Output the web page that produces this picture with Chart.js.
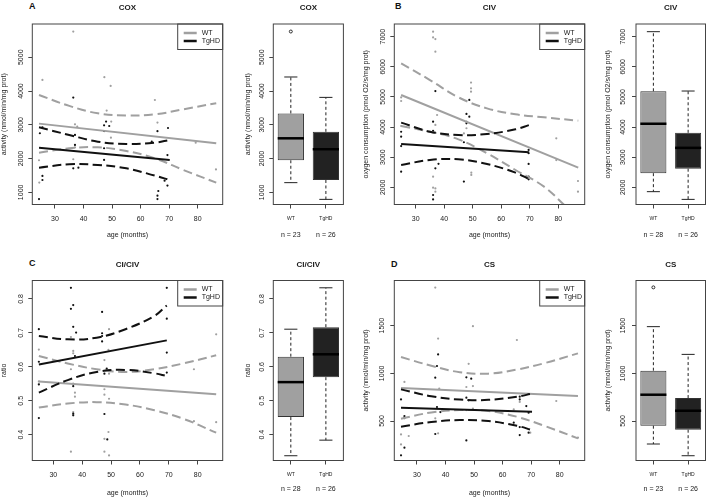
<!DOCTYPE html>
<html>
<head>
<meta charset="utf-8">
<script src="https://cdn.jsdelivr.net/npm/chart.js@4.4.1/dist/chart.umd.min.js"></script>
<style>
  html, body { margin: 0; padding: 0; background: #fff; }
  #fig { position: relative; width: 708px; height: 497px; overflow: hidden; }
  #fig canvas { position: absolute; }
  .tag { position: absolute; font: bold 9px "Liberation Sans", Arial, sans-serif; line-height: 9px; color: #111; }
</style>
</head>
<body>
<div id="fig">
  <div class="tag" style="left:29px;top:1.5px">A</div>
  <div class="tag" style="left:395px;top:1.5px">B</div>
  <div class="tag" style="left:29px;top:258.5px">C</div>
  <div class="tag" style="left:391px;top:259.5px">D</div>
  <canvas id="coxScatter"></canvas>
  <canvas id="coxBox"></canvas>
  <canvas id="civScatter"></canvas>
  <canvas id="civBox"></canvas>
  <canvas id="ratioScatter"></canvas>
  <canvas id="ratioBox"></canvas>
  <canvas id="csScatter"></canvas>
  <canvas id="csBox"></canvas>
</div>
<script>
// ---- data ----
const groups = ['WT', 'TgHD'];
const ageTicks = [30, 40, 50, 60, 70, 80];

// COX
const coxTicks = [1000, 2000, 3000, 4000, 5000];
const coxWtAge = [24.4, 24.5, 25.6, 36.4, 36.4, 37.0, 37.8, 37.0, 47.3, 48.1, 49.5, 49.7, 49.6, 65.0, 65.9, 79.3, 86.4];
const coxWtAct = [1950, 1290, 4330, 5760, 1980, 3015, 2945, 2330, 4410, 3420, 4150, 3095, 2620, 3735, 3065, 2470, 1680];
const coxTgAge = [24.4, 25.6, 25.6, 24.7, 25.6, 36.4, 37.0, 37.0, 36.4, 38.2, 47.2, 47.9, 49.0, 47.2, 47.2, 47.2, 63.9, 65.9, 66.2, 65.9, 65.9, 69.6, 69.4, 68.4, 69.4];
const coxTgAct = [800, 1485, 1365, 2750, 2925, 3805, 2700, 2405, 1710, 1730, 2985, 3095, 2965, 2815, 2305, 1960, 2500, 2810, 1040, 900, 800, 2905, 2105, 1345, 1200];
const coxWtFitAge = [24.4, 86.5];
const coxWtFit = [3035, 2452];
const coxTgFitAge = [24.4, 70.2];
const coxTgFit = [2323, 1958];
const coxWtBandAge = [24.4, 35, 45, 55, 65, 75, 86.5];
const coxWtUpper = [3884, 3560, 3340, 3275, 3310, 3460, 3640];
const coxWtLower = [2175, 2304, 2333, 2225, 2007, 1662, 1286];
const coxTgBandAge = [24.4, 35, 45, 55, 65, 70.2];
const coxTgUpper = [2926, 2699, 2501, 2432, 2472, 2551];
const coxTgLower = [1731, 1830, 1810, 1711, 1494, 1365];
const coxBoxWt = [1287, 1950, 2600, 3337, 4416];
const coxBoxTg = [792, 1366, 2277, 2792, 3812];
const coxOutWt = [5762];
const coxOutTg = [];
const coxN = [23, 26];

// CIV
const civTicks = [2000, 3000, 4000, 5000, 6000, 7000];
const civWtAge = [36.1, 36.1, 36.9, 36.9, 24.9, 24.9, 24.9, 37.5, 36.9, 36.1, 36.1, 36.9, 36.9, 49.4, 49.4, 49.4, 47.8, 47.8, 49.5, 49.5, 79.3, 79.3, 86.9, 86.9, 81.9, 46.9];
const civWtO2 = [7165, 6975, 6920, 6500, 4985, 4865, 4035, 4400, 4070, 2355, 1990, 1965, 1855, 5475, 5285, 5175, 4180, 3960, 2485, 2410, 3625, 2905, 2210, 1855, 1415, 3790];
const civTgAge = [24.9, 24.9, 24.9, 24.9, 36.1, 36.9, 36.9, 38.0, 36.1, 36.1, 36.1, 48.8, 47.8, 48.8, 47.8, 46.9, 46.9, 69.6, 69.6, 69.6, 69.6, 69.6];
const civTgO2 = [3845, 3680, 3370, 2520, 4180, 5195, 2630, 2780, 1745, 1600, 3870, 4900, 4435, 4345, 4125, 3495, 2190, 3240, 3130, 2775, 2355, 2265];
const civWtFitAge = [24.9, 87];
const civWtFit = [5063, 2653];
const civTgFitAge = [24.9, 69.8];
const civTgFit = [3438, 3161];
const civWtBandAge = [24.9, 35, 45, 55, 65, 75, 87];
const civWtUpper = [6114, 5561, 4986, 4621, 4422, 4323, 4212];
const civWtLowAge = [24.9, 35, 45, 55, 65, 75, 82.5];
const civWtLower = [4035, 3847, 3593, 3128, 2575, 2022, 1380];
const civTgBandAge = [24.9, 35, 45, 55, 65, 69.8];
const civTgUpper = [4146, 3847, 3736, 3770, 3924, 4068];
const civTgLower = [2741, 2907, 2929, 2774, 2487, 2265];
const civBoxWt = [1856, 2470, 4110, 5188, 7165];
const civBoxTg = [1600, 2618, 3310, 3810, 5196];
const civOutWt = [];
const civOutTg = [];
const civN = [28, 26];

// CI/CIV
const ratioTicks = [0.4, 0.5, 0.6, 0.7, 0.8];
const ratioWtAge = [25.0, 25.0, 25.0, 36.1, 36.9, 36.9, 36.1, 36.9, 37.5, 37.5, 36.9, 36.1, 49.3, 47.7, 49.1, 49.3, 47.7, 47.7, 49.3, 47.7, 49.1, 47.7, 49.3, 78.7, 78.7, 86.4, 86.4];
const ratioWt = [0.651, 0.557, 0.550, 0.688, 0.647, 0.640, 0.593, 0.551, 0.524, 0.512, 0.467, 0.350, 0.711, 0.620, 0.650, 0.580, 0.534, 0.518, 0.506, 0.388, 0.408, 0.350, 0.339, 0.593, 0.440, 0.696, 0.437];
const ratioTgAge = [25.0, 25.0, 25.0, 25.0, 36.1, 36.1, 36.9, 36.9, 37.9, 37.5, 36.9, 36.9, 36.9, 46.9, 46.9, 46.9, 46.9, 47.7, 48.5, 47.7, 48.7, 69.3, 69.3, 69.3, 69.3];
const ratioTg = [0.711, 0.615, 0.548, 0.449, 0.833, 0.771, 0.782, 0.718, 0.701, 0.632, 0.543, 0.457, 0.462, 0.762, 0.699, 0.691, 0.675, 0.580, 0.595, 0.461, 0.386, 0.833, 0.742, 0.642, 0.583];
const ratioWtFitAge = [25.0, 86.4];
const ratioWtFit = [0.557, 0.519];
const ratioTgFitAge = [25.0, 69.3];
const ratioTgFit = [0.607, 0.678];
const ratioWtBandAge = [25.0, 35, 45, 55, 65, 75, 86.4];
const ratioWtUpper = [0.632, 0.610, 0.593, 0.585, 0.593, 0.610, 0.634];
const ratioWtLower = [0.480, 0.492, 0.496, 0.489, 0.472, 0.447, 0.406];
const ratioTgBandAge = [25.0, 35, 45, 55, 65, 69.3];
const ratioTgUpper = [0.691, 0.681, 0.686, 0.711, 0.750, 0.781];
const ratioTgLower = [0.524, 0.561, 0.585, 0.591, 0.581, 0.573];
const ratioBoxWt = [0.338, 0.452, 0.555, 0.630, 0.711];
const ratioBoxTg = [0.384, 0.5695, 0.637, 0.717, 0.833];
const ratioOutWt = [];
const ratioOutTg = [];
const ratioN = [28, 26];

// CS
const csTicks = [500, 1000, 1500];
const csWtAge = [24.4, 24.4, 25.6, 25.6, 27.1, 36.4, 37.4, 36.4, 37.4, 37.8, 48.1, 49.6, 47.3, 49.6, 47.3, 49.6, 65.0, 66.0, 78.8, 86.4, 69.7, 63.9];
const csWtAct = [360, 255, 910, 528, 343, 1900, 1365, 528, 371, 840, 1100, 1495, 857, 867, 615, 630, 1350, 700, 710, 325, 378, 622];
const csTgAge = [24.4, 25.6, 25.6, 25.6, 24.4, 37.4, 37.0, 36.4, 37.0, 38.2, 36.4, 47.3, 49.0, 47.3, 48.1, 47.3, 63.9, 66.0, 66.0, 66.0, 66.0, 68.3, 69.1, 69.1];
const csTgAct = [727, 535, 552, 220, 140, 1199, 1077, 955, 647, 594, 364, 958, 944, 745, 717, 297, 483, 755, 727, 437, 353, 657, 587, 378];
const csWtFitAge = [24.4, 86.4];
const csWtFit = [846, 762];
const csTgFitAge = [24.4, 70.3];
const csTgFit = [640, 598];
const csWtBandAge = [24.4, 35, 45, 55, 65, 75, 86.4];
const csWtUpper = [1171, 1080, 1012, 997, 1040, 1110, 1210];
const csWtLower = [524, 590, 615, 605, 545, 445, 318];
const csTgBandAge = [24.4, 35, 45, 55, 65, 70.3];
const csTgUpper = [832, 760, 725, 722, 755, 787];
const csTgLower = [441, 490, 510, 500, 450, 405];
const csBoxWt = [259, 451, 776, 1028, 1490];
const csBoxTg = [136, 409, 608, 741, 1199];
const csOutWt = [1902];
const csOutTg = [];
const csN = [23, 26];

// ---- look ----
const FONT = '"Liberation Sans", Arial, sans-serif';
const INK = '#1a1a1a';
const AXIS = '#444';
const GREY = '#a0a0a0';
const BLACK = '#111';
const BOX_FILL = ['#a0a0a0', '#222222'];
const DASH = [9, 4.5];

Chart.defaults.font.family = FONT;
Chart.defaults.color = INK;
Chart.defaults.animation = false;

const zip = (xs, ys) => xs.map((x, i) => ({ x: x, y: ys[i] }));
const measure = document.createElement('canvas').getContext('2d');
function widest(labels, size) {
  measure.font = size + 'px ' + FONT;
  return Math.max(...labels.map(t => measure.measureText(t).width));
}

// plot box, like R's box()
const framePlugin = {
  id: 'frame',
  afterDatasetsDraw(chart) {
    const { ctx, chartArea: a } = chart;
    ctx.save();
    ctx.setLineDash([]);
    ctx.strokeStyle = AXIS;
    ctx.lineWidth = 1;
    ctx.strokeRect(a.left, a.top, a.right - a.left, a.bottom - a.top);
    ctx.restore();
  }
};

// boxed legend in the top right corner of the plot
const rLegend = {
  id: 'rLegend',
  afterDraw(chart, args, opts) {
    if (!opts.items) return;
    const { ctx, chartArea: a } = chart;
    const w = 45, h = 25.5, x0 = a.right - w, y0 = a.top;
    ctx.save();
    ctx.setLineDash([]);
    ctx.strokeStyle = AXIS;
    ctx.lineWidth = 1;
    ctx.strokeRect(x0, y0, w, h);
    ctx.font = '7px ' + FONT;
    ctx.textBaseline = 'middle';
    ctx.textAlign = 'left';
    opts.items.forEach((it, i) => {
      const y = y0 + 9 + i * 8;
      ctx.strokeStyle = it.color;
      ctx.lineWidth = 2.5;
      ctx.lineCap = 'butt';
      ctx.beginPath();
      ctx.moveTo(x0 + 6, y);
      ctx.lineTo(x0 + 19, y);
      ctx.stroke();
      ctx.fillStyle = INK;
      ctx.fillText(it.label, x0 + 24, y);
    });
    ctx.restore();
  }
};

// whiskers, medians, outliers and n = .. under each box
const rBox = {
  id: 'rBox',
  afterDatasetsDraw(chart, args, opts) {
    if (!opts.stats) return;
    const { ctx } = chart;
    const ys = chart.scales.y;
    const bars = chart.getDatasetMeta(0).data;
    ctx.save();
    opts.stats.forEach((s, i) => {
      const cx = bars[i].x, half = bars[i].width / 2;
      const [lo, q1, med, q3, hi] = s.map(v => ys.getPixelForValue(v));
      ctx.strokeStyle = '#222';
      ctx.lineWidth = 1;
      ctx.setLineDash([3, 2.5]);
      ctx.beginPath();
      ctx.moveTo(cx, q1); ctx.lineTo(cx, lo);
      ctx.moveTo(cx, q3); ctx.lineTo(cx, hi);
      ctx.stroke();
      ctx.setLineDash([]);
      ctx.beginPath();
      ctx.moveTo(cx - half / 2, lo); ctx.lineTo(cx + half / 2, lo);
      ctx.moveTo(cx - half / 2, hi); ctx.lineTo(cx + half / 2, hi);
      ctx.stroke();
      ctx.strokeStyle = '#000';
      ctx.lineWidth = 2.5;
      ctx.beginPath();
      ctx.moveTo(cx - half, med); ctx.lineTo(cx + half, med);
      ctx.stroke();
      ctx.lineWidth = 0.8;
      (opts.outliers[i] || []).forEach(v => {
        ctx.beginPath();
        ctx.arc(cx, ys.getPixelForValue(v), 1.5, 0, 2 * Math.PI);
        ctx.stroke();
      });
      ctx.fillStyle = INK;
      ctx.font = '7px ' + FONT;
      ctx.textAlign = 'center';
      ctx.textBaseline = 'middle';
      ctx.fillText('n = ' + opts.counts[i], cx, opts.nY);
    });
    ctx.restore();
  }
};

Chart.register(framePlugin, rLegend, rBox);

// ---- layout of the figure (page pixels) ----
const topRow = { cTop: 0, cH: 248, pTop: 24, pBottom: 204.5, titleY: 8, xTitleY: 235, nY: 235 };
const lowRow = { cTop: 248, cH: 249, pTop: 280.5, pBottom: 460.5, titleY: 264.5, xTitleY: 493, nY: 489 };

function place(id, left, top, width, height) {
  const cv = document.getElementById(id);
  cv.width = width;
  cv.height = height;
  cv.style.left = left + 'px';
  cv.style.top = top + 'px';
  cv.style.width = width + 'px';
  cv.style.height = height + 'px';
  return cv;
}

function titleOpts(text, row) {
  return {
    display: true, text: text, fullSize: false, color: INK,
    font: { size: 8, weight: 'bold', lineHeight: 1 },
    padding: { top: row.titleY - row.cTop - 4, bottom: row.pTop - row.titleY - 4 }
  };
}

function valueScale(range, ticks, title, col) {
  const labels = ticks.map(String);
  return {
    min: range[0], max: range[1],
    afterBuildTicks: s => { s.ticks = ticks.map(v => ({ value: v })); },
    afterFit: s => { s.width = col.pLeft - col.cLeft; },
    grid: { drawOnChartArea: false, tickLength: 4, color: AXIS },
    border: { display: false },
    ticks: {
      font: { size: 7, lineHeight: 1 }, color: INK,
      minRotation: 90, maxRotation: 90, crossAlign: 'center',
      padding: col.tickGap - 4 - widest(labels, 7) / 2,
      callback: v => String(v)
    },
    title: {
      display: true, text: title, color: INK,
      font: { size: 7, lineHeight: 1 },
      padding: { top: col.yTitleX - col.cLeft - 3.5, bottom: 0 }
    }
  };
}

function scatterPanel(id, col, row, p) {
  const cv = place(id, col.cLeft, row.cTop, col.cW, row.cH);
  const lineSet = (xs, ys, color, dashed) => ({
    type: 'line', data: zip(xs, ys), borderColor: color, borderWidth: 2,
    borderDash: dashed ? DASH : [], pointRadius: 0, tension: dashed ? 0.4 : 0, fill: false
  });
  new Chart(cv, {
    type: 'scatter',
    data: {
      datasets: [
        lineSet(p.tgFitAge, p.tgFit, BLACK, false),
        lineSet(p.tgBandAge, p.tgUpper, BLACK, true),
        lineSet(p.tgBandAge, p.tgLower, BLACK, true),
        lineSet(p.wtFitAge, p.wtFit, GREY, false),
        lineSet(p.wtBandAge, p.wtUpper, GREY, true),
        lineSet(p.wtLowAge || p.wtBandAge, p.wtLower, GREY, true),
        { label: groups[1], data: zip(p.tgAge, p.tgVal), pointRadius: 1.1, backgroundColor: BLACK, borderWidth: 0 },
        { label: groups[0], data: zip(p.wtAge, p.wtVal), pointRadius: 1.1, backgroundColor: GREY, borderWidth: 0 }
      ]
    },
    options: {
      responsive: false,
      layout: { padding: { left: 0, top: 0, bottom: 0, right: col.cLeft + col.cW - col.pRight } },
      plugins: {
        legend: { display: false },
        tooltip: { enabled: false },
        title: titleOpts(p.title, row),
        rLegend: { items: [{ label: groups[0], color: GREY }, { label: groups[1], color: BLACK }] }
      },
      scales: {
        x: {
          type: 'linear', min: p.xRange[0], max: p.xRange[1],
          afterBuildTicks: s => { s.ticks = ageTicks.map(v => ({ value: v })); },
          afterFit: s => { s.height = row.cTop + row.cH - row.pBottom; },
          grid: { drawOnChartArea: false, tickLength: 4, color: AXIS },
          border: { display: false },
          ticks: { font: { size: 7, lineHeight: 1 }, color: INK, padding: 7, maxRotation: 0, callback: v => String(v) },
          title: {
            display: true, text: 'age (months)', color: INK,
            font: { size: 7, lineHeight: 1 },
            padding: { top: 0, bottom: row.cTop + row.cH - 3.5 - row.xTitleY }
          }
        },
        y: valueScale(p.yRange, p.yTicks, p.yTitle, col)
      }
    }
  });
}

function boxPanel(id, col, row, p) {
  const cv = place(id, col.cLeft, row.cTop, col.cW, row.cH);
  const stats = [p.wt, p.tg];
  new Chart(cv, {
    type: 'bar',
    data: {
      labels: groups,
      datasets: [{
        data: stats.map(s => [s[1], s[3]]),
        backgroundColor: BOX_FILL, borderColor: '#333', borderWidth: 1, borderSkipped: false,
        barPercentage: 0.75, categoryPercentage: 1
      }]
    },
    options: {
      responsive: false,
      layout: { padding: { left: 0, top: 0, bottom: 0, right: col.cLeft + col.cW - col.pRight } },
      plugins: {
        legend: { display: false },
        tooltip: { enabled: false },
        title: titleOpts(p.title, row),
        rBox: { stats: stats, outliers: [p.wtOut, p.tgOut], counts: p.n, nY: row.nY - row.cTop }
      },
      scales: {
        x: {
          afterFit: s => { s.height = row.cTop + row.cH - row.pBottom; },
          grid: { offset: false, drawOnChartArea: false, tickLength: 4, color: AXIS },
          border: { display: false },
          ticks: { font: { size: 5, lineHeight: 1 }, color: INK, padding: 8, maxRotation: 0 }
        },
        y: valueScale(p.yRange, p.yTicks, p.yTitle, col)
      }
    }
  });
}

// columns: canvas span and plot span in page pixels
const colA = { cLeft: 0, cW: 230, pLeft: 32.3, pRight: 222.7, yTitleX: 4, tickGap: 11.4 };
const colAbox = { cLeft: 230, cW: 125, pLeft: 273.3, pRight: 343.4, yTitleX: 248, tickGap: 11.6 };
const colB = { cLeft: 355, cW: 235, pLeft: 394.3, pRight: 584.7, yTitleX: 366, tickGap: 11.3 };
const colBbox = { cLeft: 590, cW: 118, pLeft: 636, pRight: 705.5, yTitleX: 608.5, tickGap: 12.5 };

const coxTitle = 'activity (nmol/min/mg prot)';
const civTitle = 'oxygen consumption (pmol O2/s/mg prot)';

scatterPanel('coxScatter', colA, topRow, {
  title: 'COX', yTitle: coxTitle, xRange: [22.05, 88.76], yRange: [640, 5985], yTicks: coxTicks,
  wtAge: coxWtAge, wtVal: coxWtAct, tgAge: coxTgAge, tgVal: coxTgAct,
  wtFitAge: coxWtFitAge, wtFit: coxWtFit, tgFitAge: coxTgFitAge, tgFit: coxTgFit,
  wtBandAge: coxWtBandAge, wtUpper: coxWtUpper, wtLower: coxWtLower,
  tgBandAge: coxTgBandAge, tgUpper: coxTgUpper, tgLower: coxTgLower
});
boxPanel('coxBox', colAbox, topRow, {
  title: 'COX', yTitle: coxTitle, yRange: [640, 5985], yTicks: coxTicks,
  wt: coxBoxWt, tg: coxBoxTg, wtOut: coxOutWt, tgOut: coxOutTg, n: coxN
});
scatterPanel('civScatter', colB, topRow, {
  title: 'CIV', yTitle: civTitle, xRange: [22.5, 89.26], yRange: [1430, 7420], yTicks: civTicks,
  wtAge: civWtAge, wtVal: civWtO2, tgAge: civTgAge, tgVal: civTgO2,
  wtFitAge: civWtFitAge, wtFit: civWtFit, tgFitAge: civTgFitAge, tgFit: civTgFit,
  wtBandAge: civWtBandAge, wtUpper: civWtUpper, wtLowAge: civWtLowAge, wtLower: civWtLower,
  tgBandAge: civTgBandAge, tgUpper: civTgUpper, tgLower: civTgLower
});
boxPanel('civBox', colBbox, topRow, {
  title: 'CIV', yTitle: civTitle, yRange: [1430, 7420], yTicks: civTicks,
  wt: civBoxWt, tg: civBoxTg, wtOut: civOutWt, tgOut: civOutTg, n: civN
});
scatterPanel('ratioScatter', colA, lowRow, {
  title: 'CI/CIV', yTitle: 'ratio', xRange: [22.73, 88.66], yRange: [0.324, 0.8545], yTicks: ratioTicks,
  wtAge: ratioWtAge, wtVal: ratioWt, tgAge: ratioTgAge, tgVal: ratioTg,
  wtFitAge: ratioWtFitAge, wtFit: ratioWtFit, tgFitAge: ratioTgFitAge, tgFit: ratioTgFit,
  wtBandAge: ratioWtBandAge, wtUpper: ratioWtUpper, wtLower: ratioWtLower,
  tgBandAge: ratioTgBandAge, tgUpper: ratioTgUpper, tgLower: ratioTgLower
});
boxPanel('ratioBox', colAbox, lowRow, {
  title: 'CI/CIV', yTitle: 'ratio', yRange: [0.324, 0.8545], yTicks: ratioTicks,
  wt: ratioBoxWt, tg: ratioBoxTg, wtOut: ratioOutWt, tgOut: ratioOutTg, n: ratioN
});
scatterPanel('csScatter', Object.assign({}, colB, { tickGap: 12.5 }), lowRow, {
  title: 'CS', yTitle: coxTitle, xRange: [22.05, 88.76], yRange: [86, 1974], yTicks: csTicks,
  wtAge: csWtAge, wtVal: csWtAct, tgAge: csTgAge, tgVal: csTgAct,
  wtFitAge: csWtFitAge, wtFit: csWtFit, tgFitAge: csTgFitAge, tgFit: csTgFit,
  wtBandAge: csWtBandAge, wtUpper: csWtUpper, wtLower: csWtLower,
  tgBandAge: csTgBandAge, tgUpper: csTgUpper, tgLower: csTgLower
});
boxPanel('csBox', colBbox, lowRow, {
  title: 'CS', yTitle: coxTitle, yRange: [86, 1974], yTicks: csTicks,
  wt: csBoxWt, tg: csBoxTg, wtOut: csOutWt, tgOut: csOutTg, n: csN
});
</script>
</body>
</html>
